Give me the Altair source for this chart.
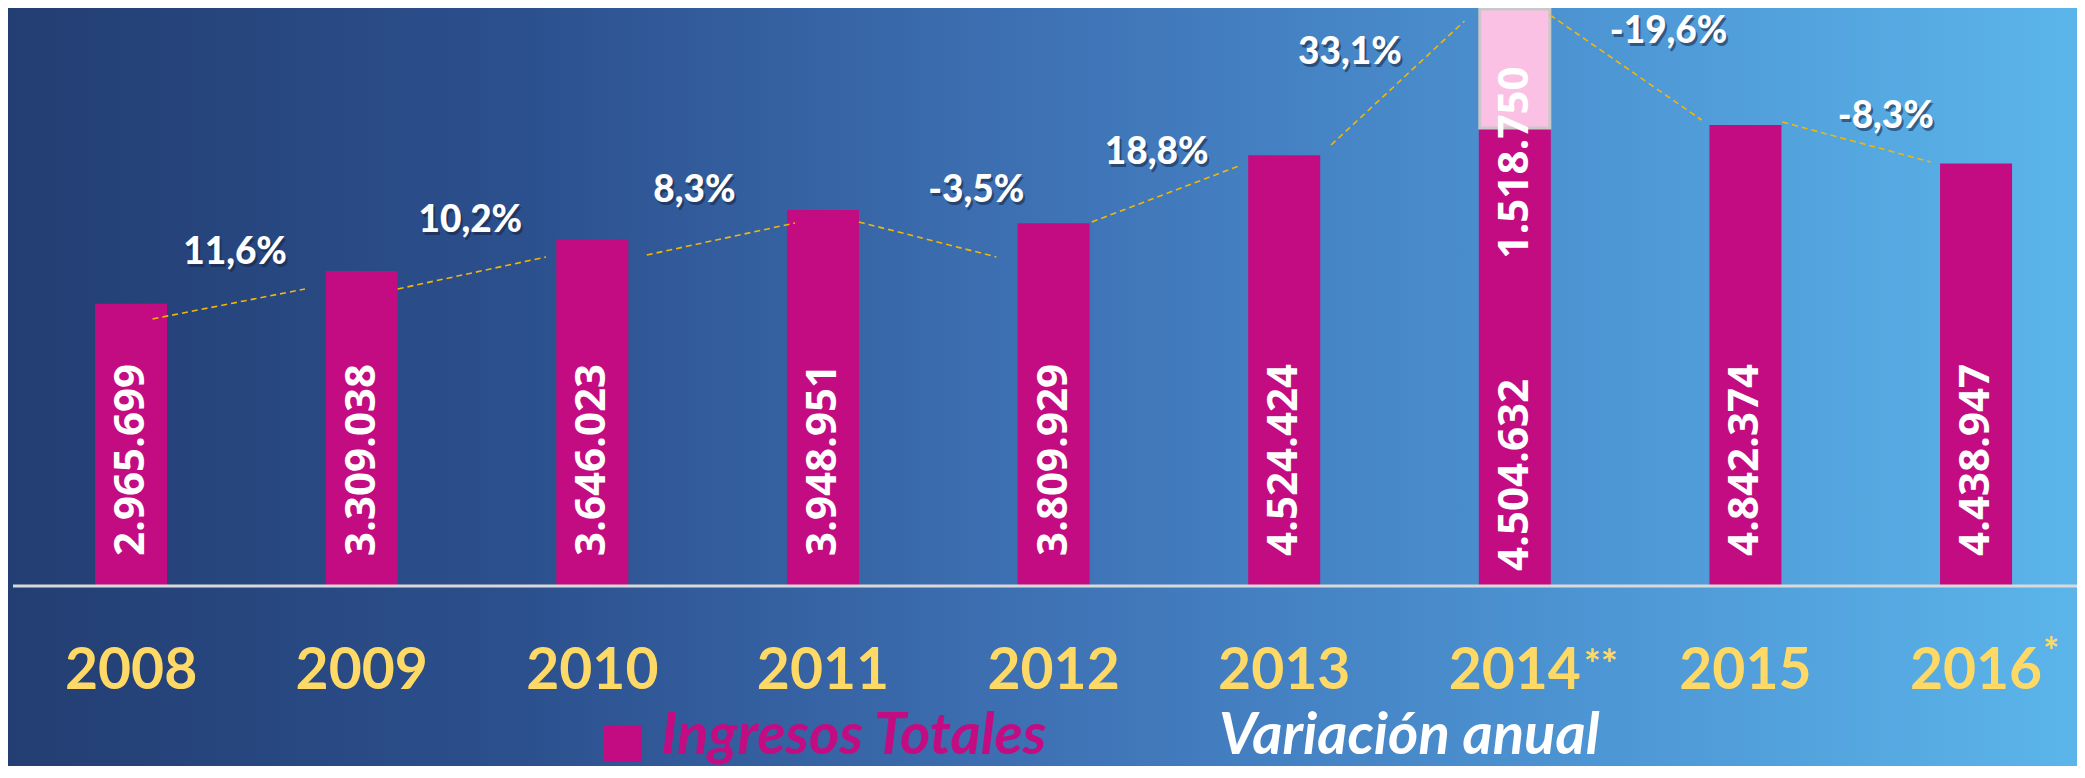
import altair as alt
import pandas as pd

# ---------------- data ----------------
years = ["2008", "2009", "2010", "2011", "2012", "2013", "2014", "2015", "2016"]
ingresos = [2965699, 3309038, 3646023, 3948951, 3809929, 4524424, 4504632, 4842374, 4438947]
extra = [0, 0, 0, 0, 0, 0, 1518750, 0, 0]          # additional part of 2014
suffix_2014 = "**"
suffix_2016 = "*"

pct_labels = ["11,6%", "10,2%", "8,3%", "-3,5%", "18,8%", "33,1%", "-19,6%", "-8,3%"]
pct_x = [0.451, 1.471, 2.443, 3.665, 4.447, 5.285, 6.667, 7.609]
pct_y = [3.50e6, 3.83e6, 4.15e6, 4.15e6, 4.55e6, 5.60e6, 5.82e6, 4.93e6]

# dashed connector segments (index units, value units)
seg_x1 = [0.093, 1.156, 2.236, 3.156, 4.166, 5.203, 6.153, 7.160]
seg_y1 = [2.805e6, 3.120e6, 3.477e6, 3.824e6, 3.824e6, 4.632e6, 5.998e6, 4.874e6]
seg_x2 = [0.754, 1.799, 2.879, 3.752, 4.814, 5.782, 6.810, 7.803]
seg_y2 = [3.120e6, 3.456e6, 3.813e6, 3.456e6, 4.422e6, 5.935e6, 4.895e6, 4.454e6]

# light pink highlight box on the 2014 bar
pink_low = [4.81e6]
pink_high = [6.06e6]

# ---------------- tables ----------------
def fmt(v):
    return f"{v:,}".replace(",", ".")

idx = list(range(len(years)))
bars = pd.DataFrame({
    "idx": idx,
    "year": years,
    "ingresos": ingresos,
    "extra": extra,
    "label": [fmt(v) for v in ingresos],
    "extra_label": [fmt(v) if v else "" for v in extra],
})
bars["total"] = bars["ingresos"] + bars["extra"]

pct = pd.DataFrame({"x": pct_x, "y": pct_y, "t": pct_labels})
segs = pd.DataFrame({"x1": seg_x1, "y1": seg_y1, "x2": seg_x2, "y2": seg_y2})
pink = pd.DataFrame({"idx": [6], "lo": pink_low, "hi": pink_high})
one = pd.DataFrame({"a": [0]})

W, H = 2069, 758
MAGENTA = "#C30C81"
YELLOW = "#FFD966"

xs = alt.Scale(domain=[-0.512, 8.416], nice=False, zero=False)
ys = alt.Scale(domain=[-1.8908e6, 6.0714e6], nice=False, zero=False)

grad = {
    "gradient": "linear",
    "x1": 0, "x2": 1, "y1": 0, "y2": 0,
    "stops": [
        {"offset": 0, "color": "#233E72"},
        {"offset": 0.25, "color": "#2C508E"},
        {"offset": 0.5, "color": "#3E72B5"},
        {"offset": 0.75, "color": "#4C93D2"},
        {"offset": 1, "color": "#5BB5EA"},
    ],
}

bg = alt.Chart(one).mark_rect(fill=grad).encode(
    x=alt.value(0), x2=alt.value(W), y=alt.value(0), y2=alt.value(H)
)

bar = alt.Chart(bars).mark_bar(size=72, color=MAGENTA).encode(
    x=alt.X("idx:Q", scale=xs, axis=None),
    y=alt.Y("total:Q", scale=ys, axis=None),
    y2=alt.datum(0),
)

baseline = alt.Chart(one).mark_rule(color="#D9D9D9", strokeWidth=3).encode(
    x=alt.value(5), x2=alt.value(W), y=alt.datum(0)
)

pinkbox = alt.Chart(pink).mark_bar(size=70, color="#FBC1E4", stroke="#C8C8C8", strokeWidth=3).encode(
    x=alt.X("idx:Q", scale=xs),
    y=alt.Y("hi:Q", scale=ys),
    y2="lo:Q",
)

connectors = alt.Chart(segs).mark_rule(color="#F2B705", strokeWidth=1.6, strokeDash=[6, 4]).encode(
    x=alt.X("x1:Q", scale=xs), y=alt.Y("y1:Q", scale=ys), x2="x2:Q", y2="y2:Q"
)

val_common = dict(angle=270, baseline="middle", font="Open Sans", fontWeight="bold",
                  fontSize=42, color="white")
vals = alt.Chart(bars).transform_filter("datum.extra == 0").mark_text(
    align="left", dx=30, **val_common
).encode(x=alt.X("idx:Q", scale=xs), y=alt.datum(0), text="label:N")

vals14 = alt.Chart(bars).transform_filter("datum.extra > 0").mark_text(
    align="left", dx=15, **val_common
).encode(x=alt.X("idx:Q", scale=xs), y=alt.datum(0), text="label:N")

vals14top = alt.Chart(bars).transform_filter("datum.extra > 0").mark_text(
    align="right", dx=-54, **val_common
).encode(x=alt.X("idx:Q", scale=xs), y=alt.Y("total:Q", scale=ys), text="extra_label:N")

pct_shadow = alt.Chart(pct).mark_text(
    font="Lato", fontWeight=900, fontSize=37, color="#15243F", opacity=0.55,
    baseline="middle", dx=2, dy=3
).encode(x=alt.X("x:Q", scale=xs), y=alt.Y("y:Q", scale=ys), text="t:N")

pct_text = alt.Chart(pct).mark_text(
    font="Lato", fontWeight=900, fontSize=37, color="white", baseline="middle"
).encode(x=alt.X("x:Q", scale=xs), y=alt.Y("y:Q", scale=ys), text="t:N")

year_text = alt.Chart(bars).mark_text(
    font="Lato", fontWeight="bold", fontSize=57, color=YELLOW, baseline="alphabetic"
).encode(x=alt.X("idx:Q", scale=xs), y=alt.value(681), text="year:N")

suf14 = alt.Chart(bars).transform_filter("datum.year == '2014'").transform_calculate(
    s=f"'{suffix_2014}'"
).mark_text(
    font="Lato", fontWeight="bold", fontSize=40, color=YELLOW, baseline="alphabetic",
    align="left", dx=69
).encode(x=alt.X("idx:Q", scale=xs), y=alt.value(671), text="s:N")

suf16 = alt.Chart(bars).transform_filter("datum.year == '2016'").transform_calculate(
    s=f"'{suffix_2016}'"
).mark_text(
    font="Lato", fontWeight="bold", fontSize=38, color=YELLOW, baseline="alphabetic",
    align="left", dx=67
).encode(x=alt.X("idx:Q", scale=xs), y=alt.value(657), text="s:N")

leg_sq = alt.Chart(one).mark_rect(color=MAGENTA).encode(
    x=alt.value(596), x2=alt.value(634), y=alt.value(717), y2=alt.value(754)
)
leg_t1 = alt.Chart(one).transform_calculate(t="'Ingresos Totales'").mark_text(
    font="Lato", fontWeight="bold", fontStyle="italic", fontSize=58, color=MAGENTA,
    align="left", baseline="alphabetic"
).encode(x=alt.value(653), y=alt.value(746), text="t:N")
leg_t2 = alt.Chart(one).transform_calculate(t="'Variación anual'").mark_text(
    font="Lato", fontWeight="bold", fontStyle="italic", fontSize=58, color="white",
    align="left", baseline="alphabetic"
).encode(x=alt.value(1211), y=alt.value(746), text="t:N")

chart = alt.layer(
    bg, bar, baseline, pinkbox, connectors, vals, vals14, vals14top,
    pct_shadow, pct_text, year_text, suf14, suf16, leg_sq, leg_t1, leg_t2
).properties(
    width=W, height=H, padding=0, autosize=alt.AutoSizeParams(type="none")
).configure_view(stroke=None)

chart.save("out.html", embed_options={"renderer": "svg", "actions": False})
